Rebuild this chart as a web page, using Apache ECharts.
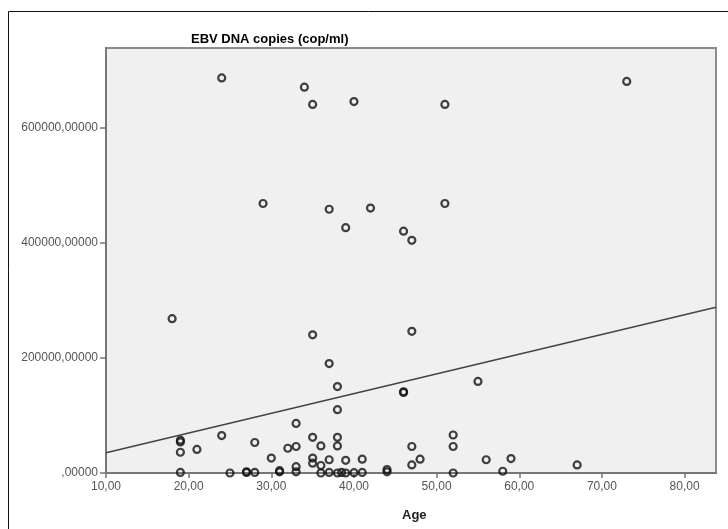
<!DOCTYPE html>
<html>
<head>
<meta charset="utf-8">
<script src="https://cdn.jsdelivr.net/npm/echarts@6/dist/echarts.min.js"></script>
<style>
  html, body { margin: 0; padding: 0; background: #fff; }
  #chart { width: 728px; height: 529px; }
</style>
</head>
<body>
<div id="chart"></div>
<script>
// age of each patient
const ages = [
  24, 34, 35, 40, 73, 51,
  29, 51, 37, 42, 39, 46, 47,
  18, 35, 47, 37, 38, 46, 46, 38, 55,
  19, 19, 19, 21, 24, 28, 30, 32, 33, 33, 33, 33,
  35, 36, 35, 35, 36, 37, 38, 38, 39, 41,
  47, 47, 48, 52, 52, 56, 59, 67,
  19, 25, 27, 27, 28, 31, 31, 36, 37, 38, 38.5, 39, 40, 41, 44, 44, 52, 58
]
// EBV DNA copies (cop/ml)
const copies = [
  686000, 670000, 640000, 645000, 680000, 640000,
  468000, 468000, 458000, 460000, 426000, 420000, 404000,
  268000, 240000, 246000, 190000, 150000, 140000, 141000, 110000, 159000,
  57000, 54000, 36000, 41000, 65000, 53000, 26000, 43000, 46000, 86000, 11000, 2000,
  62000, 47000, 26000, 17000, 13000, 23000, 62000, 47000, 22000, 24000,
  46000, 14000, 24000, 66000, 46000, 23000, 25000, 14000,
  1000, 0, 1000, 2000, 1000, 2000, 4000, 0, 1000, 0, 1000, 0, 500, 1000, 2000, 6000, 0, 3000
]
// fitted line, read at both ends of the x axis
const fitAges = [10, 83.8]
const fitCopies = [35000, 288000]

const xTicks = [10, 20, 30, 40, 50, 60, 70, 80]
const yTicks = [0, 200000, 400000, 600000]

const chart = echarts.init(document.getElementById('chart'))

const fmtX = v => v.toFixed(2).replace('.', ',')
const fmtY = v => (v === 0 ? '' : String(v)) + ',00000'

const option = {
  animation: false,
  backgroundColor: '#fff',
  title: [
    {
      text: 'EBV DNA copies (cop/ml)',
      left: 186,
      top: 28,
      textStyle: { fontFamily: 'Liberation Sans', fontSize: 13, fontWeight: 'bold', color: '#000' }
    },
    {
      text: 'Age',
      left: 397,
      top: 504,
      textStyle: { fontFamily: 'Liberation Sans', fontSize: 13, fontWeight: 'bold', color: '#222' }
    }
  ],
  graphic: [{
    type: 'rect',
    shape: { x: 8.5, y: 11.5, width: 740, height: 540 },
    style: { fill: 'none', stroke: '#111', lineWidth: 1 },
    silent: true
  }],
  grid: {
    left: 106,
    top: 48,
    width: 610,
    height: 425,
    show: true,
    backgroundColor: '#f0f0f0',
    borderColor: '#8c8c8c',
    borderWidth: 2
  },
  xAxis: {
    type: 'value',
    min: 10,
    max: 83.8,
    interval: 10,
    splitLine: { show: false },
    axisLine: { onZero: false, lineStyle: { color: '#777', width: 2 } },
    axisTick: { show: true, length: 5, customValues: xTicks, lineStyle: { color: '#777', width: 1.5 } },
    axisLabel: {
      customValues: xTicks,
      formatter: fmtX,
      margin: 8,
      color: '#555',
      fontFamily: 'Liberation Sans',
      fontSize: 12
    }
  },
  yAxis: {
    type: 'value',
    min: 0,
    max: 738000,
    interval: 200000,
    splitLine: { show: false },
    axisLine: { show: true, onZero: false, lineStyle: { color: '#777', width: 2 } },
    axisTick: { show: true, length: 6, customValues: yTicks, lineStyle: { color: '#777', width: 1.5 } },
    axisLabel: {
      customValues: yTicks,
      formatter: fmtY,
      margin: 8,
      color: '#555',
      fontFamily: 'Liberation Sans',
      fontSize: 12
    }
  },
  series: [
    {
      type: 'line',
      data: fitAges.map((a, i) => [a, fitCopies[i]]),
      symbol: 'none',
      lineStyle: { color: '#444', width: 1.5 },
      silent: true
    },
    {
      type: 'scatter',
      data: ages.map((a, i) => [a, copies[i]]),
      symbol: 'circle',
      symbolSize: 7,
      itemStyle: { color: 'rgba(0,0,0,0)', borderColor: '#111', borderWidth: 2.2 }
    }
  ]
}

chart.setOption(option)
</script>
</body>
</html>
